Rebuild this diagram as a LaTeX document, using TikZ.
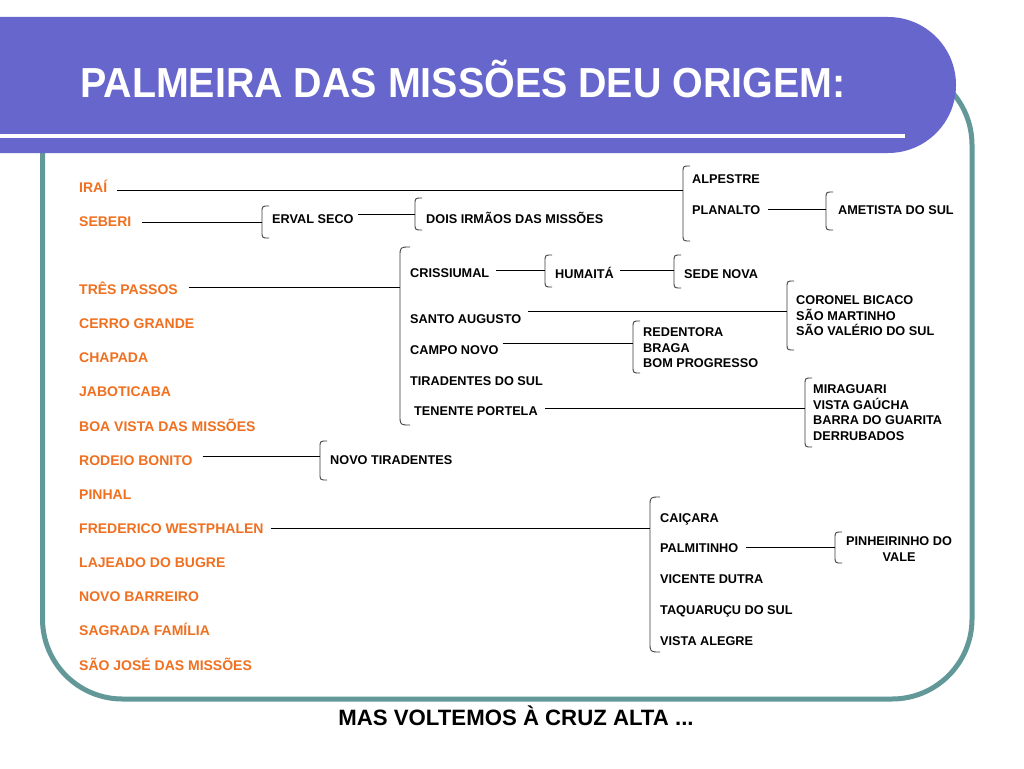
\documentclass[tikz,border=0pt]{standalone}
\usepackage{fontspec}
\usepackage{graphicx}
\setmainfont{Liberation Sans}
\usetikzlibrary{calc}
\definecolor{hdrblue}{RGB}{102,102,204}
\definecolor{frameteal}{RGB}{98,152,152}
\definecolor{orng}{RGB}{240,112,32}
\definecolor{brkgray}{RGB}{60,60,60}
% #1 name, #2 x, #3 top, #4 bottom, #5 hook, #6 y where connector meets
\newcommand\mybrk[6]{%
  \draw[brk] (#2+#5,#3) .. controls (#2,#3) .. (#2,#3+#5) -- (#2,#4-#5) .. controls (#2,#4) .. (#2+#5,#4);
  \coordinate (#1) at (#2,#6);}
\begin{document}
\begin{tikzpicture}[x=1pt,y=-1pt,
  org/.style={text=orng,font=\fontsize{14}{16}\selectfont\bfseries,inner sep=0pt,text height=10pt,text depth=0pt,anchor=west},
  blk/.style={text=black,font=\fontsize{12.7}{15}\selectfont\bfseries,inner sep=0pt,text height=9.1pt,text depth=0pt,anchor=west},
  conn/.style={draw=black,line width=0.9pt},
  brk/.style={draw=brkgray,line width=0.85pt},
]
\useasboundingbox (0,0) rectangle (1024,768);
\fill[white] (0,0) rectangle (1024,768);
% frame
\draw[frameteal,line width=5pt,rounded corners=80pt] (42.5,65) rectangle (972,699);
% header
\fill[hdrblue] (0,17) -- (888,17) .. controls (925.6,17) and (956,47.4) .. (956,85)
  .. controls (956,122.6) and (925.6,153) .. (888,153) -- (0,153) -- cycle;
\draw[white,line width=4pt] (0,135.5) -- (905,135.5);
\node[anchor=west,inner sep=0pt,text=white,font=\fontsize{42}{42}\selectfont\bfseries,text height=30pt,text depth=0pt] (title) at (80,82)
  {\scalebox{0.938}[1]{PALMEIRA DAS MISSÕES DEU ORIGEM:}};

% orange column
\node[org] (irai) at (79,187) {IRAÍ};
\node[org] (seberi) at (79,221.1) {SEBERI};
\node[org] (tres) at (79,289.4) {TRÊS PASSOS};
\node[org] (cerro) at (79,323.6) {CERRO GRANDE};
\node[org] (chapada) at (79,357.7) {CHAPADA};
\node[org] (jabot) at (79,391.8) {JABOTICABA};
\node[org] (boavista) at (79,426) {BOA VISTA DAS MISSÕES};
\node[org] (rodeio) at (79,460.1) {RODEIO BONITO};
\node[org] (pinhal) at (79,494.3) {PINHAL};
\node[org] (fred) at (79,528.4) {FREDERICO WESTPHALEN};
\node[org] (lajeado) at (79,562.5) {LAJEADO DO BUGRE};
\node[org] (novob) at (79,596.7) {NOVO BARREIRO};
\node[org] (sagrada) at (79,630.8) {SAGRADA FAMÍLIA};
\node[org] (saojose) at (79,665) {SÃO JOSÉ DAS MISSÕES};

% black nodes
\node[blk] (alpestre) at (692,179) {ALPESTRE};
\node[blk] (planalto) at (692,210) {PLANALTO};
\node[blk] (ametista) at (838,210) {AMETISTA DO SUL};
\node[blk] (erval) at (272,219) {ERVAL SECO};
\node[blk] (dois) at (426,219) {DOIS IRMÃOS DAS MISSÕES};
\node[blk] (criss) at (410,273) {CRISSIUMAL};
\node[blk] (humaita) at (555,274) {HUMAITÁ};
\node[blk] (sede) at (684,274) {SEDE NOVA};
\node[blk] (santo) at (410,319) {SANTO AUGUSTO};
\node[blk] (campo) at (410,350) {CAMPO NOVO};
\node[blk] (tirad) at (410,381) {TIRADENTES DO SUL};
\node[blk] (tenente) at (414,411) {TENENTE PORTELA};
\node[blk] (coronel) at (796,300) {CORONEL BICACO};
\node[blk] (saomart) at (796,315.5) {SÃO MARTINHO};
\node[blk] (saoval) at (796,331) {SÃO VALÉRIO DO SUL};
\node[blk] (redent) at (643,332) {REDENTORA};
\node[blk] (braga) at (643,347.5) {BRAGA};
\node[blk] (bomprog) at (643,363) {BOM PROGRESSO};
\node[blk] (miraguari) at (813,389) {MIRAGUARI};
\node[blk] (vistag) at (813,404.5) {VISTA GAÚCHA};
\node[blk] (barra) at (813,420) {BARRA DO GUARITA};
\node[blk] (derrub) at (813,435.5) {DERRUBADOS};
\node[blk] (novotir) at (330,460) {NOVO TIRADENTES};
\node[blk] (caicara) at (660,518) {CAIÇARA};
\node[blk] (palmit) at (660,548) {PALMITINHO};
\node[blk] (vicente) at (660,579) {VICENTE DUTRA};
\node[blk] (taquar) at (660,610) {TAQUARUÇU DO SUL};
\node[blk] (vistaal) at (660,641) {VISTA ALEGRE};
\node[blk,anchor=center] (pinh1) at (899,541) {PINHEIRINHO DO};
\node[blk,anchor=center] (pinh2) at (899,557) {VALE};

% brackets
\mybrk{b1}{683}{166}{241}{7}{190}
\mybrk{b2}{826}{192}{230}{7}{209}
\mybrk{b3}{262}{206}{238}{7}{222}
\mybrk{b4}{415}{198}{230}{7}{214}
\mybrk{b5}{400}{247}{425}{10}{287}
\mybrk{b6}{545}{255}{287}{7}{270}
\mybrk{b7}{674}{255}{288}{7}{270}
\mybrk{b8}{787}{281}{350}{7}{311}
\mybrk{b9}{633}{321}{373}{7}{343}
\mybrk{b10}{805}{378}{447}{7}{408}
\mybrk{b11}{320}{441}{480}{7}{456}
\mybrk{b12}{650}{497}{652}{10}{528}
\mybrk{b13}{835}{532}{563}{7}{547}

% connectors
\draw[conn] ($(b1 -| irai.east)+(10,0)$) -- (b1);
\draw[conn] ($(b2 -| planalto.east)+(8,0)$) -- (b2);
\draw[conn] ($(b3 -| seberi.east)+(10,0)$) -- (b3);
\draw[conn] ($(b4 -| erval.east)+(4,0)$) -- (b4);
\draw[conn] ($(b5 -| tres.east)+(11,0)$) -- (b5);
\draw[conn] ($(b6 -| criss.east)+(7,0)$) -- (b6);
\draw[conn] ($(b7 -| humaita.east)+(6,0)$) -- (b7);
\draw[conn] ($(b8 -| santo.east)+(7,0)$) -- (b8);
\draw[conn] ($(b9 -| campo.east)+(4,0)$) -- (b9);
\draw[conn] ($(b10 -| tenente.east)+(7,0)$) -- (b10);
\draw[conn] ($(b11 -| rodeio.east)+(10,0)$) -- (b11);
\draw[conn] ($(b12 -| fred.east)+(7,0)$) -- (b12);
\draw[conn] ($(b13 -| palmit.east)+(8,0)$) -- (b13);

% footer
\node[anchor=center,inner sep=0pt,font=\fontsize{22.2}{24}\selectfont\bfseries,text height=15.9pt,text depth=0pt] (foot) at (516,718) {MAS VOLTEMOS À CRUZ ALTA ...};
\end{tikzpicture}
\end{document}
